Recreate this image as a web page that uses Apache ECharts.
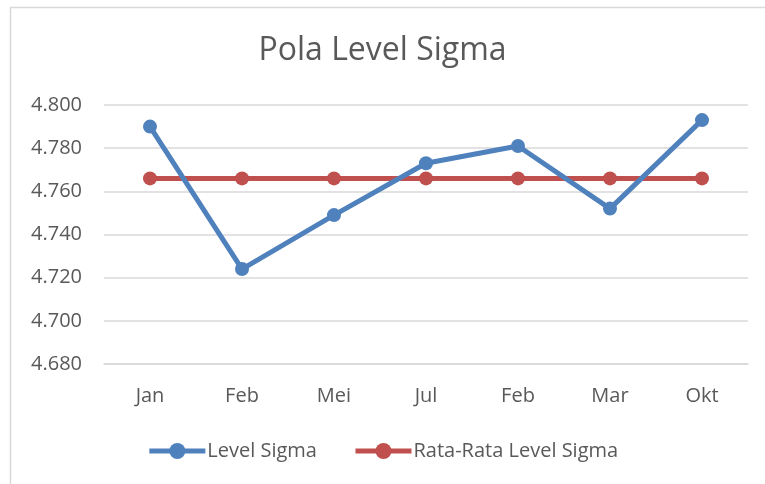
<!DOCTYPE html>
<html>
<head>
<meta charset="utf-8">
<script src="https://cdn.jsdelivr.net/npm/echarts@6/dist/echarts.min.js"></script>
<style>
  html, body { margin: 0; padding: 0; background: #fff; }
  #main { width: 765px; height: 484px; }
</style>
</head>
<body>
<div id="main"></div>
<script>
// data
var bulan = ['Jan', 'Feb', 'Mei', 'Jul', 'Feb', 'Mar', 'Okt'];
var levelSigma = [4.790, 4.724, 4.749, 4.773, 4.781, 4.752, 4.793];
var rataRata = [4.766, 4.766, 4.766, 4.766, 4.766, 4.766, 4.766];

var chart = echarts.init(document.getElementById('main'));
var fontFam = '"Open Sans", "Liberation Sans", sans-serif';

var option = {
  animation: false,
  title: {
    text: 'Pola Level Sigma',
    left: 'center',
    top: 30,
    textStyle: { fontFamily: fontFam, fontSize: 32, fontWeight: 'normal', color: '#595959' }
  },
  graphic: [{
    type: 'rect',
    shape: { x: 10.5, y: 7.5, width: 800, height: 500 },
    style: { fill: 'none', stroke: '#d9d9d9', lineWidth: 1.5 },
    silent: true
  }],
  legend: {
    bottom: 18,
    left: 'center',
    itemWidth: 56,
    itemHeight: 20,
    itemGap: 36,
    lineStyle: { width: 5 },
    textStyle: { fontFamily: fontFam, fontSize: 20, color: '#595959', padding: [0, 0, 0, -3] },
    data: ['Level Sigma', 'Rata-Rata Level Sigma']
  },
  grid: { left: 104, right: 17, top: 105, bottom: 120 },
  xAxis: {
    type: 'category',
    data: bulan,
    axisLine: { lineStyle: { color: '#d9d9d9', width: 1.5 } },
    axisTick: { show: false },
    axisLabel: { fontFamily: fontFam, fontSize: 20, color: '#595959', margin: 22 }
  },
  yAxis: {
    type: 'value',
    min: 4.68,
    max: 4.8,
    interval: 0.02,
    axisLine: { show: false },
    axisTick: { show: false },
    splitLine: { lineStyle: { color: '#d9d9d9', width: 1.5 } },
    axisLabel: {
      fontFamily: fontFam, fontSize: 20, color: '#595959', margin: 22,
      formatter: function (v) { return v.toFixed(3); }
    }
  },
  series: [
    {
      name: 'Level Sigma',
      type: 'line',
      data: levelSigma,
      symbol: 'circle',
      symbolSize: 14,
      lineStyle: { color: '#4f81bd', width: 5 },
      itemStyle: { color: '#4f81bd' },
      z: 3
    },
    {
      name: 'Rata-Rata Level Sigma',
      type: 'line',
      data: rataRata,
      symbol: 'circle',
      symbolSize: 14,
      lineStyle: { color: '#c0504d', width: 5 },
      itemStyle: { color: '#c0504d' },
      z: 2
    }
  ]
};
chart.setOption(option);
</script>
</body>
</html>
